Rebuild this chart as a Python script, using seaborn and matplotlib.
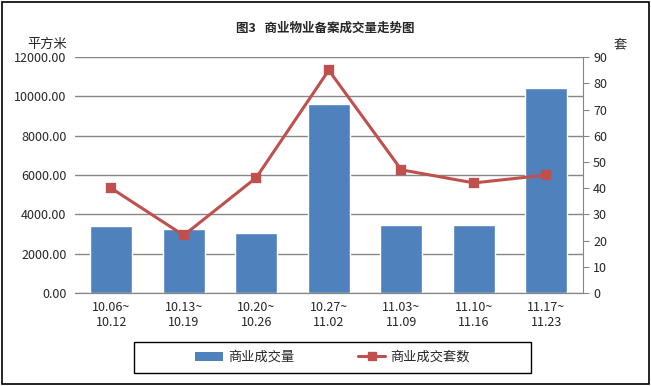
import numpy as np
import pandas as pd
import seaborn as sns
import matplotlib.pyplot as plt
from matplotlib.lines import Line2D
from matplotlib.patches import Patch, Rectangle

weeks = ["10.06~\n10.12", "10.13~\n10.19", "10.20~\n10.26", "10.27~\n11.02",
         "11.03~\n11.09", "11.10~\n11.16", "11.17~\n11.23"]
area = [3400, 3250, 3050, 9600, 3460, 3460, 10420]
units = [40, 22, 44, 85, 47, 42, 45]

df = pd.DataFrame({"week": weeks, "area": area, "units": units})

sns.set_style("white")
plt.rcParams['font.family'] = ['Noto Sans CJK SC', 'DejaVu Sans']

fig = plt.figure(figsize=(6.51, 3.86), dpi=100)
ax = fig.add_axes([0.115, 0.241, 0.78, 0.611])
ax2 = ax.twinx()

sns.barplot(data=df, x="week", y="area", ax=ax, color="#4F81BD", width=0.58,
            saturation=1, zorder=2)
ax.set_ylim(0, 12000)
ax.set_yticks(np.arange(0, 12001, 2000))
ax.set_yticklabels([f"{v:.2f}" for v in np.arange(0, 12001, 2000)], fontsize=9)
ax.yaxis.grid(True, color="#868686", linewidth=1)
ax.set_axisbelow(True)
ax.set_xlabel("")
ax.set_ylabel("")
ax.tick_params(axis="x", labelsize=9, length=0, pad=6)
ax.tick_params(axis="y", length=0, pad=6)

sns.pointplot(data=df, x="week", y="units", ax=ax2, color="#C0504D",
              marker="s", markersize=6, linewidth=2.2)
ax2.set_ylim(0, 90)
ax2.set_yticks(np.arange(0, 91, 10))
ax2.tick_params(axis="y", labelsize=9, length=4, direction="out", color="#868686")
ax2.set_ylabel("")
ax2.set_xlim(-0.5, 6.5)

for a in (ax, ax2):
    a.spines["left"].set_visible(False)
    a.spines["top"].set_visible(False)
    a.spines["right"].set_visible(False)
    a.spines["bottom"].set_color("#868686")
ax2.spines["right"].set_visible(True)
ax2.spines["right"].set_color("#868686")

fig.text(0.5, 0.927, "图3   商业物业备案成交量走势图", ha="center", va="center",
         fontsize=9, fontweight="bold")
fig.text(0.072, 0.885, "平方米", ha="center", va="center", fontsize=9.5)
fig.text(0.953, 0.885, "套", ha="center", va="center", fontsize=9.5)

# legend box drawn by hand, entries centred inside it
fig.patches.append(Rectangle((134 / 651, 1 - 373 / 386), 397 / 651, 31 / 386,
                             transform=fig.transFigure, fill=False,
                             edgecolor="black", linewidth=1))
handles = [Patch(facecolor="#4F81BD", edgecolor="none"),
           Line2D([], [], color="#C0504D", marker="s", markersize=6, linewidth=2.2)]
fig.legend(handles, ["商业成交量", "商业成交套数"], loc="center",
           bbox_to_anchor=(0.511, 0.074), ncol=2, fontsize=9.5, frameon=False,
           columnspacing=4.8, handlelength=2.1, handletextpad=0.4,
           borderaxespad=0)

fig.patches.append(Rectangle((0.003, 0.005), 0.994, 0.99, transform=fig.transFigure,
                             fill=False, edgecolor="black", linewidth=1.2))

fig.savefig("out.png", dpi=100)
